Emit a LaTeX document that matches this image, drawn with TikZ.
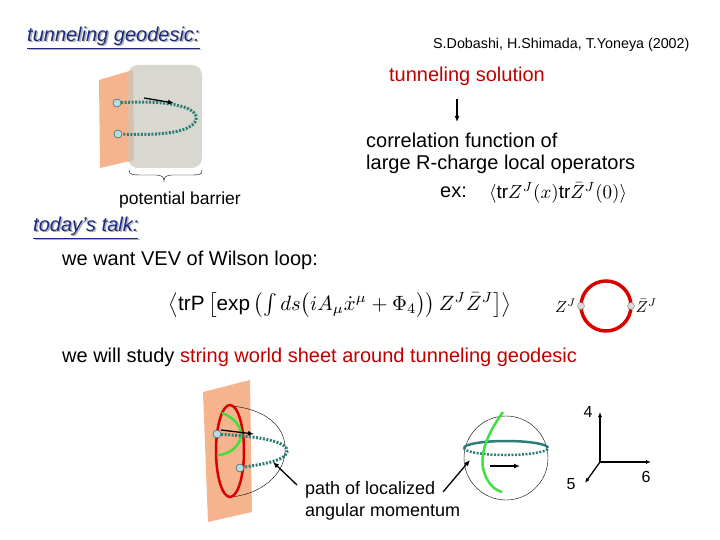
\documentclass[tikz,border=0pt]{standalone}
\usepackage{amsmath}
\usepackage{fontspec}
\setmainfont{Liberation Sans}
\usetikzlibrary{arrows.meta}
\definecolor{panel}{HTML}{F6B48E}
\definecolor{barrier}{HTML}{D8D8D0}
\definecolor{teal}{HTML}{2E7D78}
\definecolor{dotc}{HTML}{B4DDE6}
\definecolor{navy}{HTML}{1C2A80}
\definecolor{redt}{HTML}{C00000}
\definecolor{grn}{HTML}{3EE03A}
\begin{document}
\begin{tikzpicture}[x=1pt,y=-1pt,
  txt/.style={inner sep=0pt,anchor=west,font=\fontsize{20}{24}\selectfont},
  small/.style={inner sep=0pt,anchor=west,font=\fontsize{14.3}{17}\selectfont},
  path/.style={teal,line width=3pt,dash pattern=on 2pt off 1.5pt},
  pt/.style={circle,draw=teal!60!black,fill=dotc,inner sep=0pt,minimum size=8pt},
  arr/.style={-{Latex[length=6pt,width=5pt]},line width=1.3pt}]
\useasboundingbox (0,0) rectangle (720,540);
% header
\node[txt,font=\fontsize{20}{24}\selectfont\itshape,text=gray!60] at (28.5,39.5) {\underline{tunneling geodesic:}};
\node[txt,font=\fontsize{20}{24}\selectfont\itshape,text=navy] (tg) at (27,38) {\underline{tunneling geodesic:}};
\node[small] (auth) at (433,45) {S.Dobashi, H.Shimada, T.Yoneya (2002)};
\node[txt,text=redt,anchor=center] (ts) at (467,76) {tunneling solution};
\coordinate (a1) at (457,99);
\coordinate (a2) at (457,122);
\draw[arr] (a1) -- (a2);
\node[txt] (cf) at (366,140) {correlation function of};
\node[txt] (lr) at (366,164) {large R-charge local operators};
\node[txt] (ex) at (440,192) {ex:};
\node[inner sep=0pt,anchor=west] (exf) at (489,193) {\scalebox{1.9}{$\langle\mathrm{tr}Z^J(x)\mathrm{tr}\bar Z^J(0)\rangle$}};
% top-left figure
\fill[panel] (99,80) -- (133,70) -- (134,160) -- (100,168) -- cycle;
\fill[barrier,rounded corners=10pt] (128,65) rectangle (202,168);
\fill[panel!80!barrier!90!black,opacity=0.5] (128,72) -- (133,70) -- (134,160) -- (128,162) -- cycle;
\node[pt] (p1) at (117,103) {};
\node[pt] (p2) at (118,134) {};
\draw[path] (p1) .. controls (160,100) and (200,105) .. (196,120) .. controls (190,135) and (150,135) .. (p2);
\coordinate (b1) at (144,98); \coordinate (b2) at (174,103);
\draw[arr] (b1) -- (b2);
\draw[thin] (129,170) .. controls (129,175) and (133,175) .. (145,175) -- (155,175) .. controls (162,175) and (164,177) .. (164,181)
  .. controls (164,177) and (166,175) .. (173,175) -- (188,175) .. controls (200,175) and (202,175) .. (202,170);
\node[small,anchor=center,font=\fontsize{17.5}{20}\selectfont] (pb) at (180,200) {potential barrier};
% today's talk
\node[txt,font=\fontsize{20}{24}\selectfont\itshape,text=gray!60] at (34.5,229.5) {\underline{today’s talk:}};
\node[txt,font=\fontsize{20}{24}\selectfont\itshape,text=navy] (tt) at (33,228) {\underline{today’s talk:}};
\node[txt] (vev) at (62,260) {we want VEV of  Wilson loop:};
\node[inner sep=0pt] (wl) at (340,305) {\scalebox{2.07}{$\left\langle \mathrm{trP}\left[\exp\left(\int ds\bigl(iA_\mu\dot x^\mu+\Phi_4\bigr)\right)Z^J\bar Z^J\right]\right\rangle$}};
\draw[red!85!black,line width=3.5pt] (606,306) circle (25);
\node[pt,draw=gray,fill=gray!30,minimum size=7pt] (z1) at (581,306) {};
\node[pt,draw=gray,fill=gray!30,minimum size=7pt] (z2) at (631,306) {};
\node[inner sep=1pt,anchor=east] at (z1.west) {\scalebox{1.6}{$Z^J$}};
\node[inner sep=1pt,anchor=west] at (z2.east) {\scalebox{1.6}{$\bar Z^J$}};
\node[txt] (study) at (62,357) {we will study {\color{redt}string world sheet around tunneling geodesic}};
% bottom-left figure
\fill[panel] (203,392) -- (250,380) -- (252,512) -- (208,522) -- cycle;
\draw[thin] (232,406) .. controls (270,410) and (287,430) .. (285,452) .. controls (284,475) and (260,495) .. (230,497);
\draw[red!85!black,line width=2.5pt] (230,451) ellipse (14 and 46);
\draw[grn,line width=2.5pt] (222,413) .. controls (236,418) and (244,430) .. (240,440) .. controls (236,450) and (226,455) .. (217,455);
\node[pt] (q1) at (217,434) {};
\node[pt] (q2) at (240,468) {};
\draw[path] (q1) .. controls (250,436) and (290,440) .. (287,452) .. controls (285,462) and (255,465) .. (q2);
\coordinate (c1) at (221,430); \coordinate (c2) at (254,434);
\draw[arr] (c1) -- (c2);
\node[txt,font=\fontsize{18}{21}\selectfont] (pl1) at (305,490) {path of localized};
\node[txt,font=\fontsize{18}{21}\selectfont] (pl2) at (305,512) {angular momentum};
\coordinate (d1) at (297,485); \coordinate (d2) at (273,462);
\draw[arr] (d1) -- (d2);
% sphere
\draw[thin] (506,458) circle (42);
\draw[teal,line width=2.5pt,dash pattern=on 2pt off 1.5pt] (464,448) arc (180:360:42 and -7);
\draw[teal,line width=2.5pt] (464,448) arc (180:0:42 and -7);
\draw[grn,line width=2.5pt] (503,412) .. controls (490,430) and (480,450) .. (483,468) .. controls (486,482) and (494,490) .. (502,492);
\coordinate (e1) at (490,466); \coordinate (e2) at (520,466);
\draw[arr] (e1) -- (e2);
\coordinate (f1) at (443,492); \coordinate (f2) at (470,460);
\draw[arr] (f1) -- (f2);
% axes
\coordinate (o) at (600,462);
\coordinate (ax4) at (600,412); \coordinate (ax6) at (651,462); \coordinate (ax5) at (585,483);
\draw[arr,-{Latex[length=5pt,width=4pt]}] (o) -- (ax4);
\draw[arr,-{Latex[length=5pt,width=4pt]}] (o) -- (ax6);
\draw[arr,-{Latex[length=5pt,width=4pt]}] (o) -- (ax5);
\node[small,anchor=center,font=\fontsize{16}{19}\selectfont] (l4) at (588,412) {4};
\node[small,anchor=center,font=\fontsize{16}{19}\selectfont] (l6) at (646,477) {6};
\node[small,anchor=center,font=\fontsize{16}{19}\selectfont] (l5) at (571,484) {5};
\end{tikzpicture}
\end{document}
